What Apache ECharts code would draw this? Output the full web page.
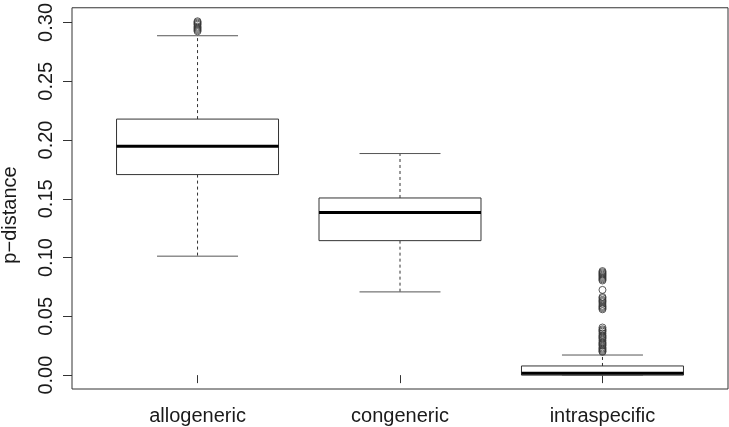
<!DOCTYPE html>
<html>
<head>
<meta charset="utf-8">
<script src="https://cdn.jsdelivr.net/npm/echarts@6/dist/echarts.min.js"></script>
<style>
html,body{margin:0;padding:0;background:#fff;}
#chart{width:729px;height:427px;}
</style>
</head>
<body>
<div id="chart"></div>
<script>
// ---- data ----
var categories = ['allogeneric', 'congeneric', 'intraspecific'];
// [lower whisker, Q1, median, Q3, upper whisker]
var allogenericStats   = [0.1012, 0.1706, 0.1948, 0.2178, 0.2887];
var congenericStats    = [0.0708, 0.1144, 0.1383, 0.1507, 0.1885];
var intraspecificStats = [0.0000, 0.0000, 0.0017, 0.0078, 0.0171];
var allogenericOutliers = [0.3010, 0.3000, 0.2990, 0.2980, 0.2965, 0.2955, 0.2945, 0.2935, 0.2925];
var congenericOutliers = [];
var intraspecificOutliers = [
  0.0885, 0.0875, 0.0865, 0.0855, 0.0845, 0.0835, 0.0825, 0.0815, 0.0805,
  0.0725,
  0.0665, 0.0655, 0.0640, 0.0630, 0.0620, 0.0605, 0.0590, 0.0580, 0.0570, 0.0560,
  0.0405, 0.0390, 0.0380, 0.0370, 0.0355, 0.0340, 0.0330, 0.0320, 0.0310, 0.0295,
  0.0280, 0.0270, 0.0260, 0.0250, 0.0235, 0.0225, 0.0215, 0.0205, 0.0198
];
var yTicks = [0, 0.05, 0.10, 0.15, 0.20, 0.25, 0.30];
var yTitle = 'p\u2212distance';

var statsList = [allogenericStats, congenericStats, intraspecificStats];
var outlierList = [allogenericOutliers, congenericOutliers, intraspecificOutliers];

var boxData = statsList.map(function (s, i) { return [i + 1].concat(s); });
var outlierData = [];
outlierList.forEach(function (arr, i) {
  arr.forEach(function (v) { outlierData.push([i + 1, v]); });
});

var FONT = 'Liberation Sans, Arial, sans-serif';

var chart = echarts.init(document.getElementById('chart'), null, {renderer: 'canvas'});

function renderBox(params, api) {
  var x = api.value(0);
  var mn = api.value(1), q1 = api.value(2), md = api.value(3), q3 = api.value(4), mx = api.value(5);
  var w = api.size([0.8, 0])[0];
  var pMin = api.coord([x, mn]), pQ1 = api.coord([x, q1]), pMd = api.coord([x, md]),
      pQ3 = api.coord([x, q3]), pMax = api.coord([x, mx]);
  var cx = pMd[0];
  var lineStroke = '#333';
  var children = [
    {type: 'line', shape: {x1: cx, y1: pQ3[1], x2: cx, y2: pMax[1]},
     style: {stroke: lineStroke, lineWidth: 1, lineDash: [3, 3]}},
    {type: 'line', shape: {x1: cx, y1: pQ1[1], x2: cx, y2: pMin[1]},
     style: {stroke: lineStroke, lineWidth: 1, lineDash: [3, 3]}},
    {type: 'line', shape: {x1: cx - w / 4, y1: pMax[1], x2: cx + w / 4, y2: pMax[1]},
     style: {stroke: '#555', lineWidth: 1}},
    {type: 'line', shape: {x1: cx - w / 4, y1: pMin[1], x2: cx + w / 4, y2: pMin[1]},
     style: {stroke: '#555', lineWidth: 1}},
    {type: 'rect', shape: {x: cx - w / 2, y: pQ3[1], width: w, height: pQ1[1] - pQ3[1]},
     style: {fill: '#fff', stroke: lineStroke, lineWidth: 1}},
    {type: 'line', shape: {x1: cx - w / 2, y1: pMd[1], x2: cx + w / 2, y2: pMd[1]},
     style: {stroke: '#000', lineWidth: 3}}
  ];
  return {type: 'group', children: children};
}

var option = {
  animation: false,
  backgroundColor: '#fff',
  grid: {
    left: 72, top: 4.5, width: 656, height: 384.5,
    show: true, borderColor: '#333', borderWidth: 1, backgroundColor: 'transparent'
  },
  xAxis: {
    type: 'value',
    min: 0.38, max: 3.62,
    splitLine: {show: false},
    axisLine: {show: false},
    axisTick: {show: true, inside: false, length: 8, customValues: [1, 2, 3],
               lineStyle: {color: '#333', width: 1}},
    axisLabel: {
      show: true, customValues: [1, 2, 3], margin: 17,
      formatter: function (v) { return categories[Math.round(v) - 1] || ''; },
      fontFamily: FONT, fontSize: 20, color: '#1a1a1a'
    }
  },
  yAxis: {
    type: 'value',
    min: -0.0118, max: 0.3125,
    splitLine: {show: false},
    axisLine: {show: false},
    axisTick: {show: true, inside: false, length: 9, customValues: yTicks,
               lineStyle: {color: '#333', width: 1}},
    axisLabel: {
      show: true, customValues: yTicks, rotate: 90, margin: 16,
      formatter: function (v) { return v.toFixed(2); },
      fontFamily: FONT, fontSize: 20, color: '#1a1a1a'
    }
  },
  graphic: [{
    type: 'text', x: 10, y: 215, rotation: Math.PI / 2,
    style: {text: yTitle, font: '20px ' + FONT, fill: '#1a1a1a',
            textAlign: 'center', textVerticalAlign: 'middle'}
  }],
  series: [
    {
      type: 'custom',
      renderItem: renderBox,
      data: boxData,
      encode: {x: 0, y: [1, 2, 3, 4, 5]},
      z: 2
    },
    {
      type: 'scatter',
      data: outlierData,
      symbol: 'circle',
      symbolSize: 7,
      itemStyle: {color: 'rgba(255,255,255,0)', borderColor: '#333', borderWidth: 1},
      z: 3
    }
  ]
};
chart.setOption(option);
</script>
</body>
</html>
